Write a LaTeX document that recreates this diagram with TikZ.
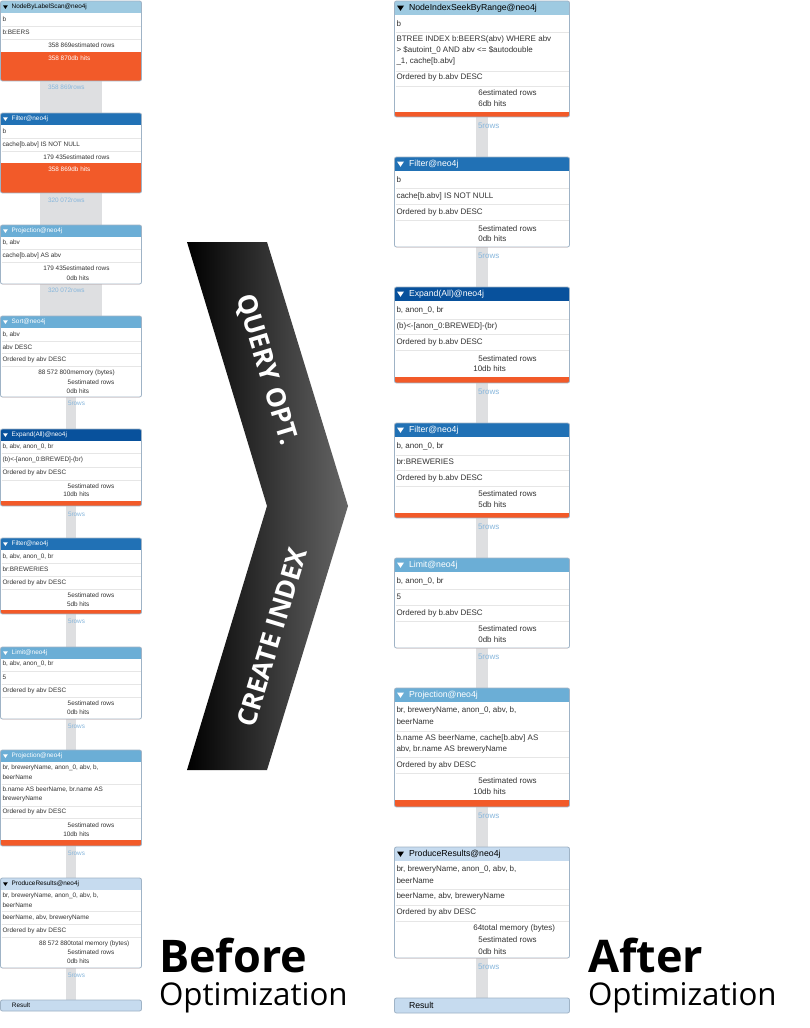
\documentclass[tikz,border=0pt]{standalone}
\usepackage{fontspec}
\setmainfont{Liberation Sans}
\newfontfamily\bigfont{Open Sans}
\usetikzlibrary{backgrounds}

\definecolor{scanblue}{HTML}{9ECAE1}
\definecolor{filterblue}{HTML}{2171B5}
\definecolor{projblue}{HTML}{6BAED6}
\definecolor{expandblue}{HTML}{08519C}
\definecolor{resultblue}{HTML}{C6DBEF}
\definecolor{hitsorange}{HTML}{F25A29}
\definecolor{bandgray}{HTML}{DEDFE1}
\definecolor{rowblue}{HTML}{86B6DC}
\definecolor{framegray}{HTML}{9FB3C6}
\definecolor{sepgray}{HTML}{E6E6E6}
\definecolor{textgray}{HTML}{333333}

\tikzset{
  opnode/.style={rectangle, anchor=north west, inner sep=0, outer sep=0, fill=white, rounded corners=2},
  boxframe/.style={draw=framegray, line width=0.8, rounded corners=2},
  sepline/.style={draw=sepgray, line width=0.7},
  rowtext/.style={anchor=west, inner sep=0, outer sep=0, font=\colfont, text=textgray},
  titletext/.style={anchor=west, inner sep=0, outer sep=0, font=\titlefont},
  rowlab/.style={anchor=west, inner sep=0, outer sep=0, font=\colfont, text=rowblue},
  band/.style={draw=bandgray, line width=#1},
  armtext/.style={inner sep=0, outer sep=0, text=white, font=\bigfont\bfseries\fontsize{26.5}{30}\selectfont},
  bigtitle/.style={anchor=base west, inner sep=0, outer sep=0, font=\bigfont\bfseries\fontsize{45}{50}\selectfont},
  bigsub/.style={anchor=base west, inner sep=0, outer sep=0, font=\bigfont\fontsize{31.3}{36}\selectfont}
}

% column settings, set again for each column
\def\cx{0}\def\cw{0}\def\hh{0}\def\tw{0}\def\tox{0}
\newcount\rowno

% one operator box: name, top, bottom, top of hits bar, header colour, title colour, title
\newcommand{\opbox}[7]{%
  \def\curbox{#1}\global\rowno=0
  \node[opnode, minimum width=\cw, minimum height={#3-#2}] (#1) at (\cx,#2) {};
  \begin{scope}
    \clip[rounded corners=2] (#1.north west) rectangle (#1.south east);
    \fill[#5] (#1.north west) rectangle ++(\cw,\hh);
    \fill[hitsorange] (\cx,#4) rectangle (#1.south east);
  \end{scope}
  \draw[boxframe] (#1.north west) rectangle (#1.south east);
  \fill[#6] (\cx+2.5,#2+\hh/2-0.35*\tw) -- ++(\tw,0) -- ++(-\tw/2,0.75*\tw) -- cycle;
  \node[titletext, text=#6] (#1-t) at (\cx+\tox,#2+\hh/2) {#7};
}
\newcommand{\seps}[1]{\foreach \s in {#1} \draw[sepline] (\cx+1,\s) -- (\cx+\cw-1,\s);}
\newcommand{\row}[2]{\global\advance\rowno by 1\relax
  \node[rowtext] (\curbox-\the\rowno) at (\cx+2,#1) {#2};}
\newcommand{\stat}[4][]{\global\advance\rowno by 1\relax
  \node[rowtext,#1] (\curbox-\the\rowno) at (#2,#3) {#4};}

\begin{document}
\begin{tikzpicture}[x=1pt, y=-1pt]
  \useasboundingbox (0,0) rectangle (809,1028);
  \begin{scope}[on background layer]
    \fill[white] (0,0) rectangle (809,1028);
  \end{scope}

  % before: left column
  \def\cx{0.5}\def\cw{141}\def\hh{12}\def\tw{4.8}\def\tox{11.2}
  \def\colfont{\fontsize{6.4}{7.5}\selectfont}
  \def\titlefont{\fontsize{6.4}{7.5}\selectfont}

  \opbox{l1}{1}{81}{52}{scanblue}{black}{NodeByLabelScan@neo4j}
  \seps{26,39}
  \row{19.5}{b}
  \row{32.5}{b:BEERS}
  \stat{48.3}{45}{358 869estimated rows}
  \stat[white]{48.3}{58}{358 870db hits}

  \opbox{l2}{113}{193}{163}{filterblue}{white}{Filter@neo4j}
  \seps{138,151}
  \row{131}{b}
  \row{144.5}{cache[b.abv] IS NOT NULL}
  \stat{43.3}{157}{179 435estimated rows}
  \stat[white]{48.3}{169}{358 869db hits}

  \opbox{l3}{225}{284}{284}{projblue}{white}{Projection@neo4j}
  \seps{249,262}
  \row{243}{b, abv}
  \row{255.5}{cache[b.abv] AS abv}
  \stat{43.3}{268.5}{179 435estimated rows}
  \stat{66.7}{278}{0db hits}

  \opbox{l4}{316}{397}{397}{projblue}{white}{Sort@neo4j}
  \seps{341,353,366}
  \row{335}{b, abv}
  \row{347}{abv DESC}
  \row{359.5}{Ordered by abv DESC}
  \stat{38.3}{372.5}{88 572 800memory (bytes)}
  \stat{67.7}{382}{5estimated rows}
  \stat{66.7}{391}{0db hits}

  \opbox{l5}{429}{506}{501}{expandblue}{white}{Expand(All)@neo4j}
  \seps{453,467,480}
  \row{447}{b, abv, anon\_0, br}
  \row{460}{(b)<-[anon\_0:BREWED]-(br)}
  \row{473}{Ordered by abv DESC}
  \stat{67.7}{486}{5estimated rows}
  \stat{63.3}{494.5}{10db hits}

  \opbox{l6}{538}{614}{610}{filterblue}{white}{Filter@neo4j}
  \seps{563,576,589}
  \row{557}{b, abv, anon\_0, br}
  \row{569.5}{br:BREWERIES}
  \row{582.5}{Ordered by abv DESC}
  \stat{67.7}{595}{5estimated rows}
  \stat{67}{604}{5db hits}

  \opbox{l7}{647}{719}{719}{projblue}{white}{Limit@neo4j}
  \seps{671,684,697}
  \row{664}{b, abv, anon\_0, br}
  \row{677.5}{5}
  \row{690.5}{Ordered by abv DESC}
  \stat{67.7}{703.5}{5estimated rows}
  \stat{67}{712.5}{0db hits}

  \opbox{l8}{750}{846}{840}{projblue}{white}{Projection@neo4j}
  \seps{784,806,818}
  \row{768}{br, breweryName, anon\_0, abv, b,}
  \row{777}{beerName}
  \row{790}{b.name AS beerName, br.name AS}
  \row{799}{breweryName}
  \row{812}{Ordered by abv DESC}
  \stat{67.7}{825}{5estimated rows}
  \stat{63.3}{834}{10db hits}

  \opbox{l9}{878}{968}{968}{resultblue}{black}{ProduceResults@neo4j}
  \seps{911,924,937}
  \row{896}{br, breweryName, anon\_0, abv, b,}
  \row{905}{beerName}
  \row{917.5}{beerName, abv, breweryName}
  \row{930.5}{Ordered by abv DESC}
  \stat{39}{943.5}{88 572 880total memory (bytes)}
  \stat{67.7}{952.5}{5estimated rows}
  \stat{67}{961.5}{0db hits}

  \node[opnode, fill=resultblue, draw=framegray, line width=0.8, minimum width=\cw, minimum height=11] (lres) at (\cx,1000) {};
  \node[titletext, text=black] (lres-t) at (12,1005.5) {Result};

  \begin{scope}[on background layer]
    \foreach \a/\b/\w/\t/\dx/\dy in {l1/l2/62/358 869rows/-23/-6, l2/l3/62/320 072rows/-23/-7,
        l3/l4/62/320 072rows/-23/-6, l4/l5/10/5rows/-3/-6, l5/l6/10/5rows/-3/-8,
        l6/l7/10/5rows/-3/-7, l7/l8/10/5rows/-3/-7, l8/l9/10/5rows/-3/-7, l9/lres/10/5rows/-3/-7}
      \draw[band=\w] (\a) -- node[rowlab, at start, xshift=\dx, yshift=\dy] (\a-rows) {\t} (\b);
  \end{scope}

  % after: right column
  \def\cx{394.5}\def\cw{175}\def\hh{14}\def\tw{7}\def\tox{14.5}
  \def\colfont{\fontsize{8}{9.5}\selectfont}
  \def\titlefont{\fontsize{8.7}{10}\selectfont}

  \opbox{r1}{1}{117}{112}{scanblue}{black}{NodeIndexSeekByRange@neo4j}
  \seps{32,71,86}
  \row{23.5}{b}
  \row{39}{BTREE INDEX b:BEERS(abv) WHERE abv}
  \row{50}{> \$autoint\_0 AND abv <= \$autodouble}
  \row{61}{\_1, cache[b.abv]}
  \row{77.5}{Ordered by b.abv DESC}
  \stat{478.3}{93}{6estimated rows}
  \stat{478.3}{104}{6db hits}

  \opbox{r2}{157}{247}{247}{filterblue}{white}{Filter@neo4j}
  \seps{188,204,220}
  \row{180}{b}
  \row{196}{cache[b.abv] IS NOT NULL}
  \row{212}{Ordered by b.abv DESC}
  \stat{478.3}{228.5}{5estimated rows}
  \stat{478.3}{239}{0db hits}

  \opbox{r3}{287}{383}{377}{expandblue}{white}{Expand(All)@neo4j}
  \seps{319,334,350}
  \row{310.5}{b, anon\_0, br}
  \row{326.5}{(b)<-[anon\_0:BREWED]-(br)}
  \row{342}{Ordered by b.abv DESC}
  \stat{478.3}{358.5}{5estimated rows}
  \stat{473.3}{369}{10db hits}

  \opbox{r4}{423}{518}{513}{filterblue}{white}{Filter@neo4j}
  \seps{455,470,486}
  \row{446.5}{b, anon\_0, br}
  \row{462}{br:BREWERIES}
  \row{478}{Ordered by b.abv DESC}
  \stat{478.3}{494}{5estimated rows}
  \stat{478.3}{505}{5db hits}

  \opbox{r5}{558}{648}{648}{projblue}{white}{Limit@neo4j}
  \seps{589,605,621}
  \row{581}{b, anon\_0, br}
  \row{597}{5}
  \row{613}{Ordered by b.abv DESC}
  \stat{478.3}{629}{5estimated rows}
  \stat{478.3}{640}{0db hits}

  \opbox{r6}{688}{807}{800}{projblue}{white}{Projection@neo4j}
  \seps{731,757,773}
  \row{710.5}{br, breweryName, anon\_0, abv, b,}
  \row{722}{beerName}
  \row{738.5}{b.name AS beerName, cache[b.abv] AS}
  \row{749.5}{abv, br.name AS breweryName}
  \row{765}{Ordered by abv DESC}
  \stat{478.3}{781}{5estimated rows}
  \stat{473.3}{792}{10db hits}

  \opbox{r7}{847}{958}{958}{resultblue}{black}{ProduceResults@neo4j}
  \seps{889,905,921}
  \row{869.5}{br, breweryName, anon\_0, abv, b,}
  \row{880.5}{beerName}
  \row{896.5}{beerName, abv, breweryName}
  \row{912.5}{Ordered by abv DESC}
  \stat{473.3}{928.5}{64total memory (bytes)}
  \stat{478.3}{940}{5estimated rows}
  \stat{478.3}{951.5}{0db hits}

  \node[opnode, fill=resultblue, draw=framegray, line width=0.8, minimum width=\cw, minimum height=15] (rres) at (\cx,998) {};
  \node[titletext, text=black] (rres-t) at (409,1005.5) {Result};

  \begin{scope}[on background layer]
    \foreach \a/\b in {r1/r2, r2/r3, r3/r4, r4/r5, r5/r6, r6/r7, r7/rres}
      \draw[band=12] (\a) -- node[rowlab, at start, xshift=-4, yshift=-9] (\a-rows) {5rows} (\b);
  \end{scope}

  % the chevron between the two plans
  \shade[left color=black, right color=black!60]
    (187,242) -- (267,242) -- (348,506) -- (267,770) -- (187,770) -- (267,506) -- cycle;
  \node[armtext, rotate=-73.1] (qopt) at (266,370) {QUERY OPT.};
  \node[armtext, rotate=73.2] (cidx) at (272,637) {CREATE INDEX};

  \node[bigtitle] (before) at (159,972) {Before};
  \node[bigsub] (beforeopt) at (159,1005) {Optimization};
  \node[bigtitle] (after) at (588,972) {After};
  \node[bigsub] (afteropt) at (588,1005) {Optimization};
\end{tikzpicture}
\end{document}
